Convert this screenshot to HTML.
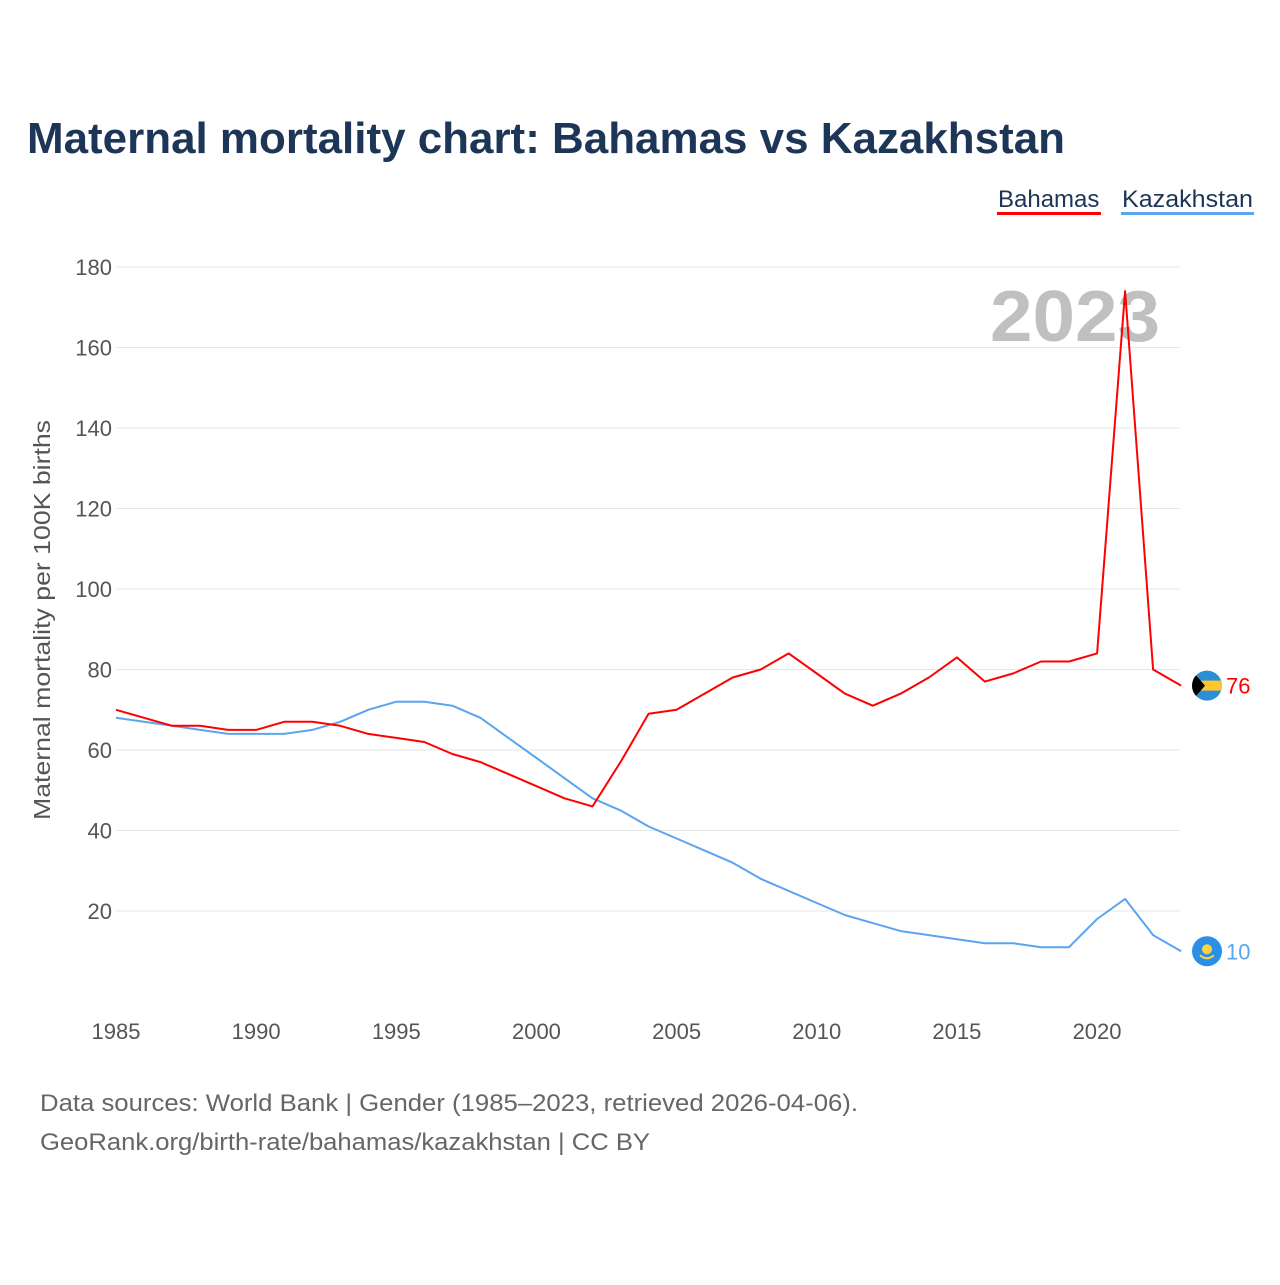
<!DOCTYPE html>
<html><head><meta charset="utf-8">
<style>
html,body{margin:0;padding:0;background:#fff;}
body{width:1280px;height:1280px;overflow:hidden;font-family:"Liberation Sans",sans-serif;}
</style></head>
<body>
<svg id="chart" width="1280" height="1280" xmlns="http://www.w3.org/2000/svg" font-family="Liberation Sans, sans-serif">
<text x="27" y="153" font-size="44" font-weight="bold" fill="#1d3557" textLength="1038" lengthAdjust="spacingAndGlyphs">Maternal mortality chart: Bahamas vs Kazakhstan</text>
<g>
<text x="998" y="207" font-size="24" fill="#1d3557">Bahamas</text>
<rect x="997" y="212" width="104" height="3" fill="#ff0000"/>
</g>
<g>
<text x="1122" y="207" font-size="24" fill="#1d3557" textLength="131" lengthAdjust="spacingAndGlyphs">Kazakhstan</text>
<rect x="1121" y="212" width="133" height="3" fill="#5aa5ef"/>
</g>
<text x="990" y="341" font-size="72" font-weight="bold" fill="#c0c0c0" textLength="170" lengthAdjust="spacingAndGlyphs">2023</text>
<g id="grid"></g>
<g id="series"></g>
<text transform="translate(50,620) rotate(-90)" text-anchor="middle" font-size="23" fill="#555" textLength="400" lengthAdjust="spacingAndGlyphs">Maternal mortality per 100K births</text>
<text x="40" y="1111" font-size="24" fill="#666" textLength="818" lengthAdjust="spacingAndGlyphs">Data sources: World Bank | Gender (1985–2023, retrieved 2026-04-06).</text>
<text x="40" y="1150" font-size="24" fill="#666" textLength="610" lengthAdjust="spacingAndGlyphs">GeoRank.org/birth-rate/bahamas/kazakhstan | CC BY</text>
</svg>
<script>
const years=[];for(let y=1985;y<=2023;y++)years.push(y);
const bahamas=[70,68,66,66,65,65,67,67,66,64,63,62,59,57,54,51,48,46,57,69,70,74,78,80,84,79,74,71,74,78,83,77,79,82,82,84,174,80,76];
const kazakhstan=[68,67,66,65,64,64,64,65,67,70,72,72,71,68,63,58,53,48,45,41,38,35,32,28,25,22,19,17,15,14,13,12,12,11,11,18,23,14,10];
const yTicks=[20,40,60,80,100,120,140,160,180];
const xTicks=[1985,1990,1995,2000,2005,2010,2015,2020];
const NS="http://www.w3.org/2000/svg";
const xs=v=>116+(v-1985)*28.03;
const ys=v=>991.5-v*4.025;
function mk(tag,attrs,parent,text){const e=document.createElementNS(NS,tag);for(const k in attrs)e.setAttribute(k,attrs[k]);if(text!==undefined)e.textContent=text;parent.appendChild(e);return e;}
const grid=document.getElementById('grid'),ser=document.getElementById('series');
yTicks.forEach(t=>{
 const l=mk('line',{x1:116,x2:1180,y1:ys(t),y2:ys(t),stroke:'#e6e6e6','stroke-width':1},grid);
 
 
 const tx=mk('text',{x:112,y:ys(t)+8,'text-anchor':'end','font-size':22,fill:'#555'},grid,String(t));
 
 
});
xTicks.forEach(t=>{
 const tx=mk('text',{x:xs(t),y:1039,'text-anchor':'middle','font-size':22,fill:'#555'},grid,String(t));
 
 
});
function line(data,color,name){
 const d=data.map((v,i)=>(i?'L':'M')+xs(years[i]).toFixed(1)+','+ys(v).toFixed(1)).join('');
 const p=mk('path',{d:d,fill:'none',stroke:color,'stroke-width':2,'stroke-linejoin':'round'},ser);
 
 
}
line(kazakhstan,'#5aa5ef','kazakhstan-line');
line(bahamas,'#ff0000','bahamas-line');
const lastB=bahamas[bahamas.length-1],lastK=kazakhstan[kazakhstan.length-1];
const cx=1207;
const gb=mk('g',{},ser);


mk('clipPath',{id:'cb'},gb);
mk('circle',{cx:cx,cy:ys(lastB),r:15},gb.querySelector('clipPath'));
const gbi=mk('g',{'clip-path':'url(#cb)'},gb);
mk('rect',{x:cx-16,y:ys(lastB)-16,width:32,height:32,fill:'#2a8fd6'},gbi);
mk('rect',{x:cx-16,y:ys(lastB)-5,width:32,height:10,fill:'#ffc72c'},gbi);
mk('polygon',{points:`${cx-16},${ys(lastB)-16} ${cx-2},${ys(lastB)} ${cx-16},${ys(lastB)+16}`,fill:'#000'},gbi);
const lb=mk('text',{x:1226,y:ys(lastB)+8,'font-size':22,fill:'#ff0000'},ser,String(lastB));


const gk=mk('g',{},ser);


mk('circle',{cx:cx,cy:ys(lastK),r:15,fill:'#2a8fe6'},gk);
mk('circle',{cx:cx,cy:ys(lastK)-2,r:5,fill:'#ffd23f'},gk);
mk('path',{d:`M${cx-7},${ys(lastK)+4} Q${cx},${ys(lastK)+10} ${cx+7},${ys(lastK)+4}`,stroke:'#ffd23f','stroke-width':2,fill:'none'},gk);
const lk=mk('text',{x:1226,y:ys(lastK)+8,'font-size':22,fill:'#5aa5ef'},ser,String(lastK));


</script>
</body></html>
